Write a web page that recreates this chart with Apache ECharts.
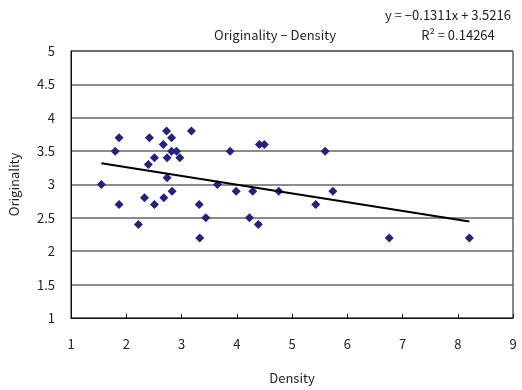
<!DOCTYPE html>
<html>
<head>
<meta charset="utf-8">
<script src="https://cdn.jsdelivr.net/npm/echarts@6/dist/echarts.min.js"></script>
<style>
  html, body {margin: 0; padding: 0; background: #fff;}
  #chart {width: 522px; height: 390px;}
</style>
</head>
<body>
<div id="chart"></div>
<script>
// density (x) and originality (y)
const density = [
  1.87, 1.80, 1.55, 1.87, 2.22, 2.42, 2.73, 2.82, 2.67, 3.18,
  2.82, 2.91, 2.74, 2.51, 2.97, 2.40, 2.74, 2.83, 2.68, 2.33,
  2.51, 3.32, 3.44, 3.33, 3.88, 4.41, 4.50, 5.60, 3.65, 3.99,
  4.29, 4.76, 5.74, 5.43, 4.23, 4.39, 6.76, 8.21
]
const originality = [
  3.7, 3.5, 3.0, 2.7, 2.4, 3.7, 3.8, 3.7, 3.6, 3.8,
  3.5, 3.5, 3.4, 3.4, 3.4, 3.3, 3.1, 2.9, 2.8, 2.8,
  2.7, 2.7, 2.5, 2.2, 3.5, 3.6, 3.6, 3.5, 3.0, 2.9,
  2.9, 2.9, 2.9, 2.7, 2.5, 2.4, 2.2, 2.2
]
const slope = -0.1311
const intercept = 3.5216
const r2 = '0.14264'

const font = '"Noto Sans CJK JP", "DejaVu Sans", sans-serif'
const txt = {fontFamily: font, fontSize: 13, fontWeight: 'normal', color: '#222'}

const points = density.map((x, i) => [x, originality[i]])
const xMin = Math.min(...density)
const xMax = Math.max(...density)
const trend = [xMin, xMax].map(x => [x, slope * x + intercept])

const chart = echarts.init(document.getElementById('chart'))

chart.setOption({
  animation: false,
  backgroundColor: '#fff',
  title: [{
    text: 'Originality − Density',
    left: 270, top: 24, textAlign: 'center',
    textStyle: txt
  }, {
    text: 'y = −0.1311x + 3.5216',
    left: 443, top: 4, textAlign: 'center',
    textStyle: txt
  }, {
    text: 'R² = ' + r2,
    left: 453, top: 24, textAlign: 'center',
    textStyle: txt
  }],
  grid: {
    left: 71, right: 9, top: 51, bottom: 72,
    show: true, borderColor: '#111', borderWidth: 1
  },
  xAxis: {
    type: 'value', min: 1, max: 9, interval: 1,
    name: 'Density', nameLocation: 'middle', nameGap: 54,
    nameTextStyle: txt,
    axisLine: {show: true, lineStyle: {color: '#111'}},
    axisTick: {show: true, inside: true, length: 4, lineStyle: {color: '#111'}},
    axisLabel: Object.assign({margin: 20}, txt),
    splitLine: {show: false}
  },
  yAxis: {
    type: 'value', min: 1, max: 5, interval: 0.5,
    name: 'Originality', nameLocation: 'middle', nameGap: 50, nameRotate: 90,
    nameTextStyle: txt,
    axisLine: {show: true, lineStyle: {color: '#111'}},
    axisTick: {show: false},
    axisLabel: Object.assign({margin: 16}, txt),
    splitLine: {show: true, lineStyle: {color: '#666', width: 1.6}}
  },
  series: [{
    type: 'scatter',
    data: points,
    symbol: 'diamond',
    symbolSize: 9,
    itemStyle: {color: '#23237d', opacity: 1},
    z: 3
  }, {
    type: 'line',
    data: trend,
    symbol: 'none',
    lineStyle: {color: '#000', width: 2},
    z: 4
  }]
})
</script>
</body>
</html>
